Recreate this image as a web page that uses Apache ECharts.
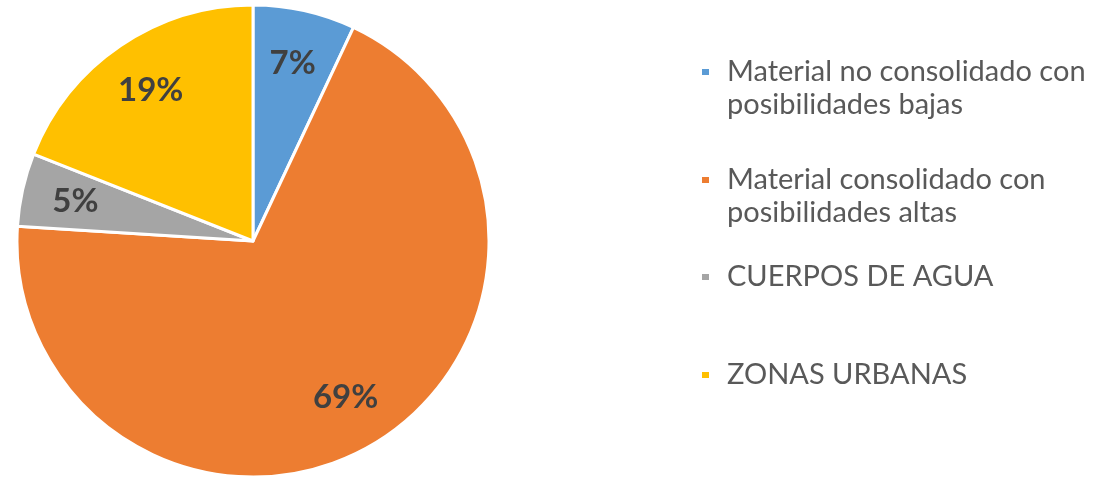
<!DOCTYPE html>
<html>
<head>
<meta charset="utf-8">
<script src="https://cdn.jsdelivr.net/npm/echarts@6/dist/echarts.min.js"></script>
<style>
  html, body { margin: 0; padding: 0; background: #fff; }
  #pieChart { width: 1108px; height: 479px; }
</style>
</head>
<body>
<div id="pieChart"></div>
<script>
var categories = [
    'Material no consolidado con\nposibilidades bajas',
    'Material consolidado con\nposibilidades altas',
    'CUERPOS DE AGUA',
    'ZONAS URBANAS'
];
var values = [7, 69, 5, 19];
var colors = ['#5b9bd5', '#ed7d31', '#a5a5a5', '#ffc000'];
var legendTops = [55.5, 163.5, 260.5, 358.5];

var pieChart = echarts.init(document.getElementById('pieChart'));

var pieData = [];
var labelData = [];
for (var i = 0; i < categories.length; i++) {
    pieData.push({ name: categories[i], value: values[i], itemStyle: { color: colors[i] } });
    labelData.push({ name: categories[i], value: values[i] });
}

// one legend per item so the uneven spacing can be kept
var legends = [];
for (var i = 0; i < categories.length; i++) {
    var twoLines = categories[i].indexOf('\n') >= 0;
    legends.push({
        left: 700,
        top: legendTops[i],
        padding: 0,
        data: [{
            name: categories[i],
            // tall invisible tail keeps the square next to the first line
            icon: twoLines ? 'path://M0,0L9,0L9,8L0,8ZM0,41L0,41Z' : 'rect'
        }],
        itemWidth: 9,
        itemHeight: twoLines ? 41 : 8,
        itemGap: 0,
        selectedMode: false,
        textStyle: {
            fontFamily: 'Lato',
            fontSize: 29,
            lineHeight: 33,
            color: '#595959',
            padding: [0, 0, 0, 12]
        }
    });
}

var option = {
    animation: false,
    legend: legends,
    series: [{
        type: 'pie',
        center: [253, 241],
        radius: [0, 236],
        startAngle: 90,
        clockwise: true,
        silent: true,
        itemStyle: {
            borderColor: '#fff',
            borderWidth: 3
        },
        label: { show: false },
        labelLine: { show: false },
        data: pieData
    }, {
        // transparent ring only used to place the labels inside the slices
        type: 'pie',
        center: [253, 241],
        radius: [122, 236],
        startAngle: 90,
        clockwise: true,
        silent: true,
        legendHoverLink: false,
        itemStyle: { color: 'rgba(0,0,0,0)', borderWidth: 0 },
        label: {
            show: true,
            position: 'inside',
            formatter: '{c}%',
            fontFamily: 'Lato',
            fontWeight: 'bold',
            fontSize: 33,
            color: '#404040'
        },
        labelLine: { show: false },
        data: labelData
    }]
};

pieChart.setOption(option);
</script>
</body>
</html>
